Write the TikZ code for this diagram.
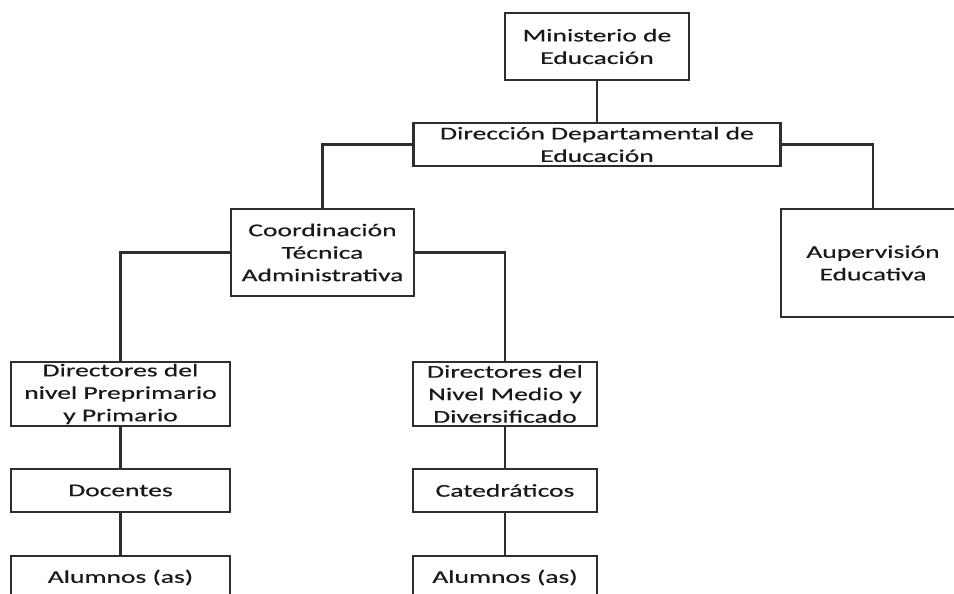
\documentclass[tikz,border=0pt]{standalone}
\usepackage{fontspec}
\setmainfont{Carlito}[FakeStretch=1.53,FakeBold=0.4]
\begin{document}
\begin{tikzpicture}[x=1pt,y=-1pt,
  box/.style={draw=black!82, line width=2.2pt, fill=white, inner sep=0pt, align=center,
    text=black!90, font=\fontsize{18}{22.5}\selectfont, anchor=center},
  link/.style={draw=black!82, line width=2.2pt}]
\useasboundingbox (0,0) rectangle (954,594);
\clip (0,0) rectangle (954,594);
\node[box, minimum width=184pt, minimum height=67pt] (min) at (597,46.5) {Ministerio de\\Educación};
\node[box, minimum width=367pt, minimum height=43pt] (dir) at (597,144.5) {Dirección Departamental de\\Educación};
\node[box, minimum width=183pt, minimum height=87pt] (coord) at (322.5,252.5) {Coordinación\\Técnica\\Administrativa};
\node[box, minimum width=184pt, minimum height=108pt] (sup) at (873,263) {Aupervisión\\Educativa};
\node[box, minimum width=219pt, minimum height=64pt] (d1) at (120.5,394) {Directores del\\nivel Preprimario\\y Primario};
\node[box, minimum width=184pt, minimum height=64pt] (d2) at (505,394) {Directores del\\Nivel Medio y\\Diversificado};
\node[box, minimum width=219pt, minimum height=43pt] (doc) at (120.5,490.5) {Docentes};
\node[box, minimum width=184pt, minimum height=43pt] (cat) at (505,490.5) {Catedráticos};
\node[box, minimum width=219pt, minimum height=43pt] (al1) at (120.5,577.5) {Alumnos (as)};
\node[box, minimum width=184pt, minimum height=43pt] (al2) at (505,577.5) {Alumnos (as)};
\draw[link] (min.south) -- (dir.north);
\draw[link] (dir.west) -| (coord.north);
\draw[link] (dir.east) -| (sup.north);
\draw[link] (coord.west) -| (d1.north);
\draw[link] (coord.east) -| (d2.north);
\draw[link] (d1.south) -- (doc.north);
\draw[link] (doc.south) -- (al1.north);
\draw[link] (d2.south) -- (cat.north);
\draw[link] (cat.south) -- (al2.north);
\end{tikzpicture}
\end{document}
